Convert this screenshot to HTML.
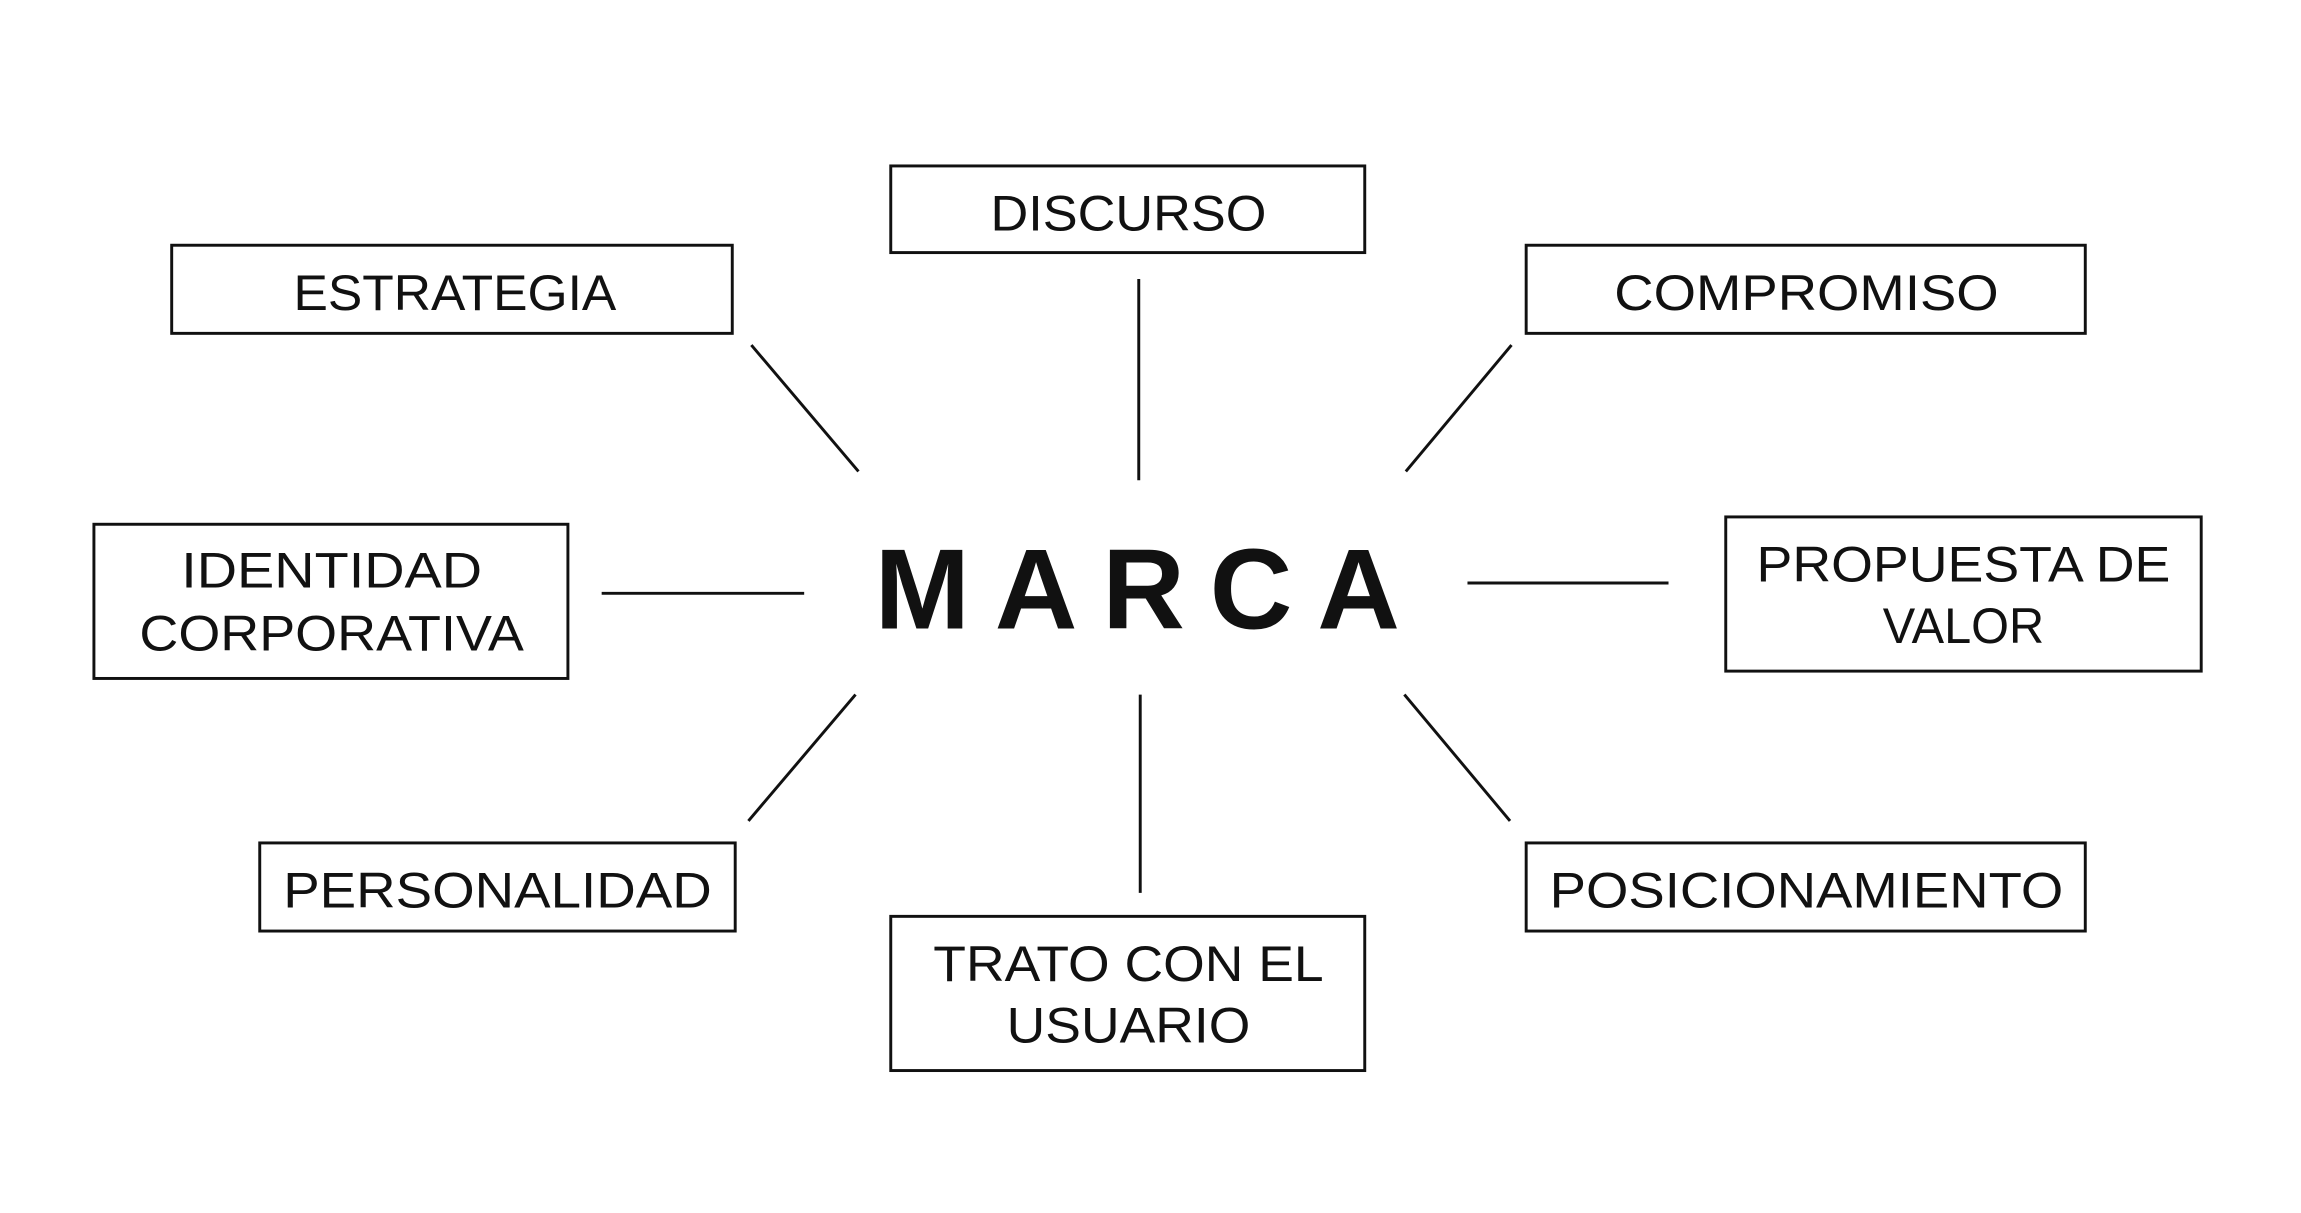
<!DOCTYPE html>
<html><head><meta charset="utf-8"><style>
html,body{margin:0;padding:0;background:#fff;}
svg{display:block;}
text{font-family:"Liberation Sans",sans-serif;fill:#111;}
</style></head><body>
<svg width="2301" height="1213" viewBox="0 0 1568 826" preserveAspectRatio="none">
<g fill="none" stroke="#111" stroke-width="2">
<rect x="607" y="113" width="323" height="59"/>
<rect x="117" y="167" width="382" height="60"/>
<rect x="1040" y="167" width="381" height="60"/>
<rect x="64" y="357" width="323" height="105"/>
<rect x="1176" y="352" width="324" height="105"/>
<rect x="177" y="574" width="324" height="60"/>
<rect x="1040" y="574" width="381" height="60"/>
<rect x="607" y="624" width="323" height="105"/>
<line x1="512" y1="235" x2="585" y2="321"/>
<line x1="776" y1="190" x2="776" y2="327"/>
<line x1="1030" y1="235" x2="958" y2="321"/>
<line x1="410" y1="404" x2="548" y2="404"/>
<line x1="1000" y1="397" x2="1137" y2="397"/>
<line x1="583" y1="473" x2="510" y2="559"/>
<line x1="777" y1="473" x2="777" y2="608"/>
<line x1="957" y1="473" x2="1029" y2="559"/>
</g>
<g font-size="34" text-anchor="middle">
<text x="769" y="157" textLength="188" lengthAdjust="spacingAndGlyphs">DISCURSO</text>
<text x="310" y="211" textLength="220" lengthAdjust="spacingAndGlyphs">ESTRATEGIA</text>
<text x="1231" y="211" textLength="262" lengthAdjust="spacingAndGlyphs">COMPROMISO</text>
<text x="226" y="400" textLength="205" lengthAdjust="spacingAndGlyphs">IDENTIDAD</text>
<text x="226" y="443" textLength="262" lengthAdjust="spacingAndGlyphs">CORPORATIVA</text>
<text x="1338" y="396" textLength="282" lengthAdjust="spacingAndGlyphs">PROPUESTA DE</text>
<text x="1338" y="438" textLength="110" lengthAdjust="spacingAndGlyphs">VALOR</text>
<text x="339" y="618" textLength="292" lengthAdjust="spacingAndGlyphs">PERSONALIDAD</text>
<text x="1231" y="618" textLength="350" lengthAdjust="spacingAndGlyphs">POSICIONAMIENTO</text>
<text x="769" y="668" textLength="266" lengthAdjust="spacingAndGlyphs">TRATO CON EL</text>
<text x="769" y="710" textLength="166" lengthAdjust="spacingAndGlyphs">USUARIO</text>
</g>
<text x="775" y="428" font-size="78" font-weight="bold" text-anchor="middle" textLength="358" lengthAdjust="spacing">MARCA</text>
</svg>
</body></html>
